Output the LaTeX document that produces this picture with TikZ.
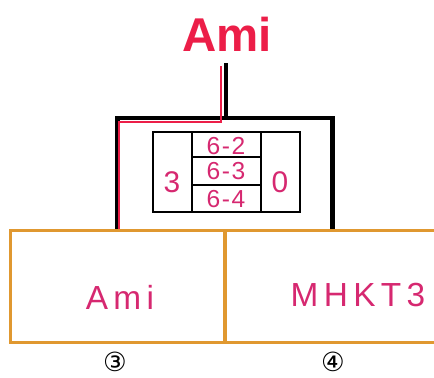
\documentclass[tikz,border=0pt]{standalone}
\usepackage{fontspec}
\setmainfont{Liberation Sans}
\newfontfamily\circfont{DejaVu Sans}
\usetikzlibrary{positioning}
\definecolor{boxorange}{RGB}{224,152,48}
\definecolor{winred}{RGB}{236,30,72}
\definecolor{inkpink}{RGB}{214,40,112}

\begin{document}
\begin{tikzpicture}[x=0.02cm, y=-0.02cm,
    team/.style={draw=boxorange, line width=1.7pt, minimum width=4.3cm, minimum height=2.26cm},
    teamname/.style={text=inkpink, font=\fontsize{19}{19}\selectfont\addfontfeature{LetterSpace=16}},
    bracket/.style={line width=2.3pt, black},
    winpath/.style={line width=1.6pt, winred},
    grid/.style={line width=0.7pt},
    score/.style={text=inkpink, font=\fontsize{14}{14}\selectfont\addfontfeature{LetterSpace=6}},
    seed/.style={inner sep=0pt, font=\circfont\fontsize{15}{15}\selectfont}]
    \useasboundingbox (0,0) rectangle (434,378);

    % Teams
    \node[team] (t3) at (117.5,286.5) {};
    \node[team] (t4) at (332.5,286.5) {};
    \node[teamname] (n3) at (120,297) {Ami};
    \node[teamname] (n4) at (358,295) {MHKT3};
    \node[seed] (s3) at (115,362) {③};
    \node[seed] (s4) at (333,362) {④};

    % Bracket
    \coordinate (join) at (226,118);
    \coordinate (top) at (226,63);
    \draw[bracket] (t3.north) |- (join) -| (t4.north);
    \draw[bracket] (join) -- (top);

    % Winner path
    \coordinate (w1) at (119,229);
    \coordinate (w2) at (221,66);
    \draw[winpath] (w1) |- (221,122) -- (w2);

    % Champion
    \node[text=winred, font=\fontsize{27}{27}\selectfont\bfseries] (champ) at (227,34) {Ami};

    % Score table
    \draw[grid] (153,132) rectangle (300,212);
    \draw[grid] (192,132) -- (192,212) (261,132) -- (261,212)
                (192,157) -- (261,157) (192,185) -- (261,185);
    \node[score] (g1) at (226,146) {6-2};
    \node[score] (g2) at (226,171) {6-3};
    \node[score] (g3) at (226,199) {6-4};
    \node[score, font=\fontsize{17}{17}\selectfont] (sl) at (172,182) {3};
    \node[score, font=\fontsize{17}{17}\selectfont] (sr) at (280,182) {0};
\end{tikzpicture}
\end{document}
